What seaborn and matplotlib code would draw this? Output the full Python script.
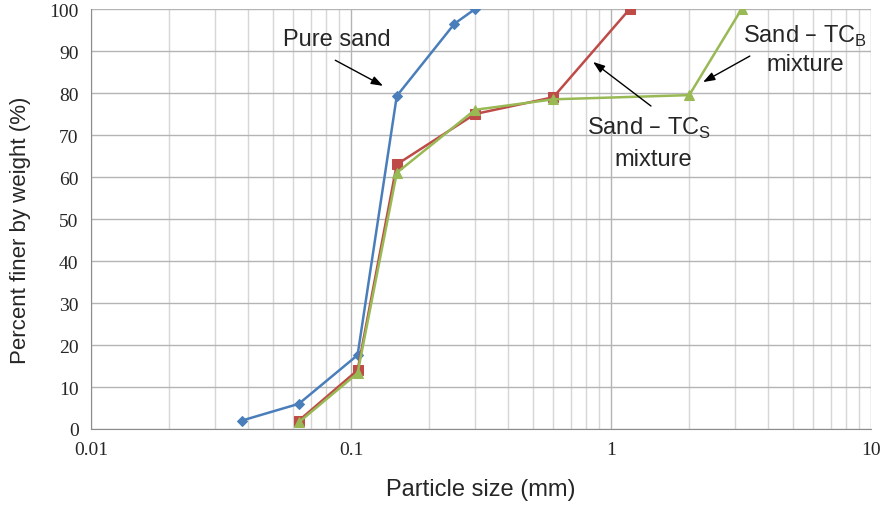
import numpy as np
import pandas as pd
import matplotlib
matplotlib.use("Agg")
import matplotlib.pyplot as plt
import seaborn as sns
from matplotlib.ticker import LogLocator, FixedLocator, FixedFormatter, NullFormatter

# Data
pure_size = [0.038, 0.063, 0.106, 0.15, 0.25, 0.30]
pure_finer = [2.0, 6.0, 17.6, 79.3, 96.5, 100.0]

tcs_size = [0.063, 0.106, 0.15, 0.30, 0.60, 1.18]
tcs_finer = [2.0, 14.0, 63.0, 75.0, 79.0, 100.0]

tcb_size = [0.063, 0.106, 0.15, 0.30, 0.60, 2.0, 3.18]
tcb_finer = [1.6, 13.3, 61.0, 76.0, 78.5, 79.5, 100.0]

series_names = ["Pure sand", "Sand - TCs", "Sand - TCb"]
x_ticks = [0.01, 0.1, 1, 10]
x_tick_labels = ["0.01", "0.1", "1", "10"]
y_ticks = list(range(0, 101, 10))

df = pd.concat([
    pd.DataFrame({"size": pure_size, "finer": pure_finer, "series": series_names[0]}),
    pd.DataFrame({"size": tcs_size, "finer": tcs_finer, "series": series_names[1]}),
    pd.DataFrame({"size": tcb_size, "finer": tcb_finer, "series": series_names[2]}),
], ignore_index=True)

sns.set_style("white")
plt.rcParams["font.family"] = ["Liberation Sans", "DejaVu Sans"]

fig = plt.figure(figsize=(8.82, 5.06), dpi=100)
ax = fig.add_axes([0.1032, 0.1502, 0.8843, 0.830])

palette = {series_names[0]: "#4a7ebb", series_names[1]: "#be4b48", series_names[2]: "#98b954"}
markers = {series_names[0]: "D", series_names[1]: "s", series_names[2]: "^"}
sizes_m = {series_names[0]: 5, series_names[1]: 7, series_names[2]: 7}

for name in series_names:
    sub = df[df["series"] == name]
    sns.lineplot(data=sub, x="size", y="finer", ax=ax, color=palette[name],
                 marker=markers[name], markersize=sizes_m[name],
                 markeredgecolor=palette[name], linewidth=1.8, sort=False,
                 estimator=None, legend=False)

ax.set_xscale("log")
ax.set_xlim(0.01, 10)
ax.set_ylim(0, 100)

ax.xaxis.set_major_locator(FixedLocator(x_ticks))
ax.xaxis.set_major_formatter(FixedFormatter(x_tick_labels))
ax.xaxis.set_minor_locator(LogLocator(base=10, subs=np.arange(2, 10)))
ax.xaxis.set_minor_formatter(NullFormatter())
ax.set_yticks(y_ticks)

ax.grid(which="major", axis="both", color="#b4b4b4", linewidth=1.0)
ax.grid(which="minor", axis="x", color="#d6d6d6", linewidth=1.0)
ax.set_axisbelow(True)

for s in ["top", "right"]:
    ax.spines[s].set_visible(False)
ax.spines["left"].set_color("#8c8c8c")
ax.spines["bottom"].set_color("#8c8c8c")

ax.tick_params(axis="both", which="major", direction="out", length=5, width=1,
               color="#8c8c8c", labelsize=14, pad=4)
ax.tick_params(axis="x", which="minor", length=0)
for lab in ax.get_xticklabels() + ax.get_yticklabels():
    lab.set_family(["Liberation Serif", "DejaVu Serif"])

ax.set_xlabel("Particle size (mm)", fontsize=17, labelpad=14)
ax.set_ylabel("Percent finer by weight (%)", fontsize=16)
ax.yaxis.set_label_coords(-0.077, 0.476)

txt_kw = dict(fontsize=17, ha="center", va="center")
arrow_props = dict(arrowstyle="-|>,head_length=0.7,head_width=0.25",
                   color="black", lw=1.0, shrinkA=0, shrinkB=0)

# Pure sand
ax.text(0.0883, 92.9, "Pure sand", **txt_kw)
ax.annotate("", xy=(0.1328, 81.7), xytext=(0.0870, 87.8), arrowprops=arrow_props)

# Sand - TCs
ax.annotate("", xy=(0.853, 87.4), xytext=(1.425, 76.9), arrowprops=arrow_props)
ax.text(1.40, 71.9, "Sand – TC$_\\mathregular{S}$", **txt_kw)
ax.text(1.45, 64.3, "mixture", **txt_kw)

# Sand - TCb
ax.annotate("", xy=(2.26, 82.6), xytext=(3.42, 88.8), arrowprops=arrow_props)
ax.text(5.57, 93.6, "Sand – TC$_\\mathregular{B}$", **txt_kw)
ax.text(5.57, 86.9, "mixture", **txt_kw)

fig.savefig("out.png", dpi=100)
